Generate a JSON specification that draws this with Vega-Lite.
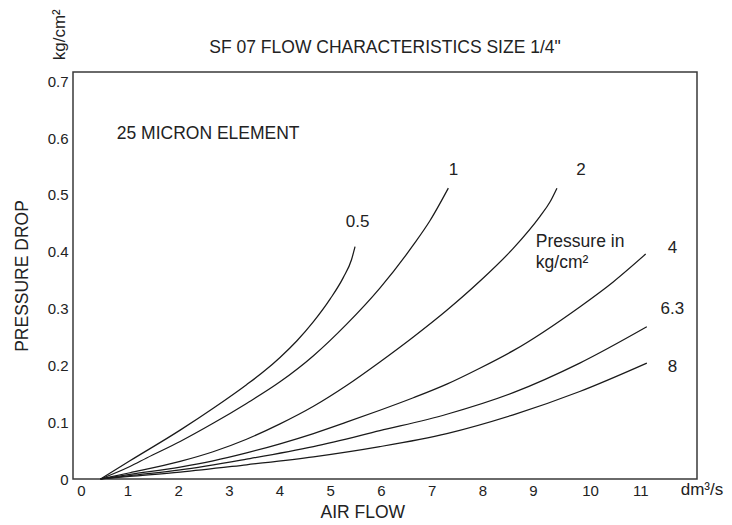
{
  "$schema": "https://vega.github.io/schema/vega-lite/v6.json",
  "autosize": "none",
  "padding": {"left": 73, "top": 72, "right": 35, "bottom": 46},
  "width": 624,
  "height": 407,
  "background": "white",
  "config": {
    "view": {"stroke": "#3a3a3a", "strokeWidth": 1.5},
    "font": "Liberation Sans",
    "text": {"font": "Liberation Sans", "color": "#222"}
  },
  "title": {
    "text": "SF 07 FLOW CHARACTERISTICS SIZE 1/4\"",
    "frame": "group",
    "fontSize": 17.5,
    "fontWeight": "normal",
    "color": "#222",
    "font": "Liberation Sans",
    "anchor": "middle",
    "offset": 15,
    "dy": 62
  },
  "datasets": {
    "curves": [
      {"p": "0.5", "x": 0.47, "y": 0},
      {"p": "0.5", "x": 1.05, "y": 0.032},
      {"p": "0.5", "x": 2.04, "y": 0.086},
      {"p": "0.5", "x": 2.7, "y": 0.125},
      {"p": "0.5", "x": 3.35, "y": 0.166},
      {"p": "0.5", "x": 3.7, "y": 0.19},
      {"p": "0.5", "x": 4.01, "y": 0.214},
      {"p": "0.5", "x": 4.34, "y": 0.243},
      {"p": "0.5", "x": 4.67, "y": 0.277},
      {"p": "0.5", "x": 5.0, "y": 0.317},
      {"p": "0.5", "x": 5.26, "y": 0.355},
      {"p": "0.5", "x": 5.42, "y": 0.386},
      {"p": "0.5", "x": 5.49, "y": 0.409},
      {"p": "1", "x": 0.47, "y": 0},
      {"p": "1", "x": 1.05, "y": 0.022},
      {"p": "1", "x": 1.38, "y": 0.037},
      {"p": "1", "x": 2.04, "y": 0.066},
      {"p": "1", "x": 2.69, "y": 0.098},
      {"p": "1", "x": 3.35, "y": 0.133},
      {"p": "1", "x": 4.01, "y": 0.171},
      {"p": "1", "x": 4.67, "y": 0.217},
      {"p": "1", "x": 5.33, "y": 0.273},
      {"p": "1", "x": 5.98, "y": 0.336},
      {"p": "1", "x": 6.64, "y": 0.412},
      {"p": "1", "x": 6.97, "y": 0.455},
      {"p": "1", "x": 7.33, "y": 0.512},
      {"p": "2", "x": 0.47, "y": 0},
      {"p": "2", "x": 1.05, "y": 0.011},
      {"p": "2", "x": 2.04, "y": 0.031},
      {"p": "2", "x": 2.69, "y": 0.048},
      {"p": "2", "x": 3.35, "y": 0.07},
      {"p": "2", "x": 4.01, "y": 0.097},
      {"p": "2", "x": 4.67, "y": 0.128},
      {"p": "2", "x": 5.33, "y": 0.165},
      {"p": "2", "x": 5.98, "y": 0.206},
      {"p": "2", "x": 6.64, "y": 0.25},
      {"p": "2", "x": 7.3, "y": 0.297},
      {"p": "2", "x": 7.95, "y": 0.348},
      {"p": "2", "x": 8.61, "y": 0.406},
      {"p": "2", "x": 9.12, "y": 0.462},
      {"p": "2", "x": 9.3, "y": 0.488},
      {"p": "2", "x": 9.42, "y": 0.512},
      {"p": "4", "x": 0.47, "y": 0},
      {"p": "4", "x": 1.05, "y": 0.008},
      {"p": "4", "x": 2.04, "y": 0.021},
      {"p": "4", "x": 2.69, "y": 0.032},
      {"p": "4", "x": 3.35, "y": 0.046},
      {"p": "4", "x": 4.01, "y": 0.062},
      {"p": "4", "x": 4.67, "y": 0.08},
      {"p": "4", "x": 5.32, "y": 0.1},
      {"p": "4", "x": 5.98, "y": 0.121},
      {"p": "4", "x": 6.64, "y": 0.143},
      {"p": "4", "x": 7.3, "y": 0.167},
      {"p": "4", "x": 7.95, "y": 0.195},
      {"p": "4", "x": 8.61, "y": 0.226},
      {"p": "4", "x": 9.82, "y": 0.303},
      {"p": "4", "x": 10.4, "y": 0.347},
      {"p": "4", "x": 10.96, "y": 0.396},
      {"p": "6.3", "x": 0.47, "y": 0},
      {"p": "6.3", "x": 1.05, "y": 0.006},
      {"p": "6.3", "x": 2.04, "y": 0.016},
      {"p": "6.3", "x": 3.35, "y": 0.035},
      {"p": "6.3", "x": 4.67, "y": 0.057},
      {"p": "6.3", "x": 5.98, "y": 0.085},
      {"p": "6.3", "x": 7.3, "y": 0.114},
      {"p": "6.3", "x": 8.61, "y": 0.152},
      {"p": "6.3", "x": 9.82, "y": 0.204},
      {"p": "6.3", "x": 10.98, "y": 0.268},
      {"p": "8", "x": 0.47, "y": 0},
      {"p": "8", "x": 1.05, "y": 0.0045},
      {"p": "8", "x": 2.04, "y": 0.012},
      {"p": "8", "x": 3.35, "y": 0.025},
      {"p": "8", "x": 4.67, "y": 0.039},
      {"p": "8", "x": 5.98, "y": 0.057},
      {"p": "8", "x": 7.3, "y": 0.08},
      {"p": "8", "x": 8.61, "y": 0.113},
      {"p": "8", "x": 9.82, "y": 0.154},
      {"p": "8", "x": 10.98, "y": 0.204}
    ],
    "curveLabels": [
      {"label": "0.5", "x": 5.54, "y": 0.453},
      {"label": "1", "x": 7.43, "y": 0.544},
      {"label": "2", "x": 9.84, "y": 0.544},
      {"label": "4", "x": 11.42, "y": 0.406},
      {"label": "6.3", "x": 11.42, "y": 0.3},
      {"label": "8", "x": 11.42, "y": 0.198}
    ],
    "notes": [
      {"label": "25 MICRON ELEMENT", "x": 0.79, "y": 0.607},
      {"label": "Pressure in", "x": 9.05, "y": 0.417},
      {"label": "kg/cm²", "x": 9.05, "y": 0.38}
    ],
    "unitY": [{"label": "kg/cm²", "x": -0.33, "y": 0.782}],
    "unitX": [{"label": "dm³/s", "x": 11.93, "y": 0}]
  },
  "encoding": {
    "x": {
      "field": "x",
      "type": "quantitative",
      "scale": {"type": "linear", "domain": [0, 9, 10, 11], "range": [3.7, 460, 517, 575], "nice": false, "zero": false},
      "axis": {
        "values": [0, 1, 2, 3, 4, 5, 6, 7, 8, 9, 10, 11],
        "labelExpr": "format(datum.value, 'd')",
        "domain": false,
        "ticks": false,
        "grid": false,
        "labelPadding": 4,
        "labelFontSize": 15,
        "labelColor": "#222",
        "labelFont": "Liberation Sans",
        "title": "AIR FLOW",
        "titleFontSize": 17.5,
        "titleFontWeight": "normal",
        "titleColor": "#222",
        "titleFont": "Liberation Sans",
        "titlePadding": 5
      }
    },
    "y": {
      "field": "y",
      "type": "quantitative",
      "scale": {"domain": [0, 0.7165], "nice": false, "zero": true},
      "axis": {
        "values": [0, 0.1, 0.2, 0.3, 0.4, 0.5, 0.6, 0.7],
        "labelExpr": "datum.value == 0 ? '0' : format(datum.value, '.1f')",
        "domain": false,
        "ticks": false,
        "grid": false,
        "labelPadding": 5,
        "labelFontSize": 15,
        "labelColor": "#222",
        "labelFont": "Liberation Sans",
        "title": "PRESSURE DROP",
        "titleFontSize": 17.5,
        "titleFontWeight": "normal",
        "titleColor": "#222",
        "titleFont": "Liberation Sans",
        "titlePadding": 16
      }
    }
  },
  "layer": [
    {
      "data": {"name": "curves"},
      "mark": {"type": "line", "color": "#1a1a1a", "strokeWidth": 1.25, "interpolate": "monotone"},
      "encoding": {"detail": {"field": "p", "type": "nominal"}}
    },
    {
      "data": {"name": "curveLabels"},
      "mark": {"type": "text", "fontSize": 17, "align": "center", "baseline": "middle"},
      "encoding": {"text": {"field": "label", "type": "nominal"}}
    },
    {
      "data": {"name": "notes"},
      "mark": {"type": "text", "fontSize": 17.5, "align": "left", "baseline": "middle"},
      "encoding": {"text": {"field": "label", "type": "nominal"}}
    },
    {
      "data": {"name": "unitY"},
      "mark": {"type": "text", "fontSize": 17, "align": "center", "baseline": "middle", "angle": 270},
      "encoding": {"text": {"field": "label", "type": "nominal"}}
    },
    {
      "data": {"name": "unitX"},
      "mark": {"type": "text", "fontSize": 17, "align": "center", "baseline": "middle", "dy": 11},
      "encoding": {"text": {"field": "label", "type": "nominal"}}
    }
  ]
}
